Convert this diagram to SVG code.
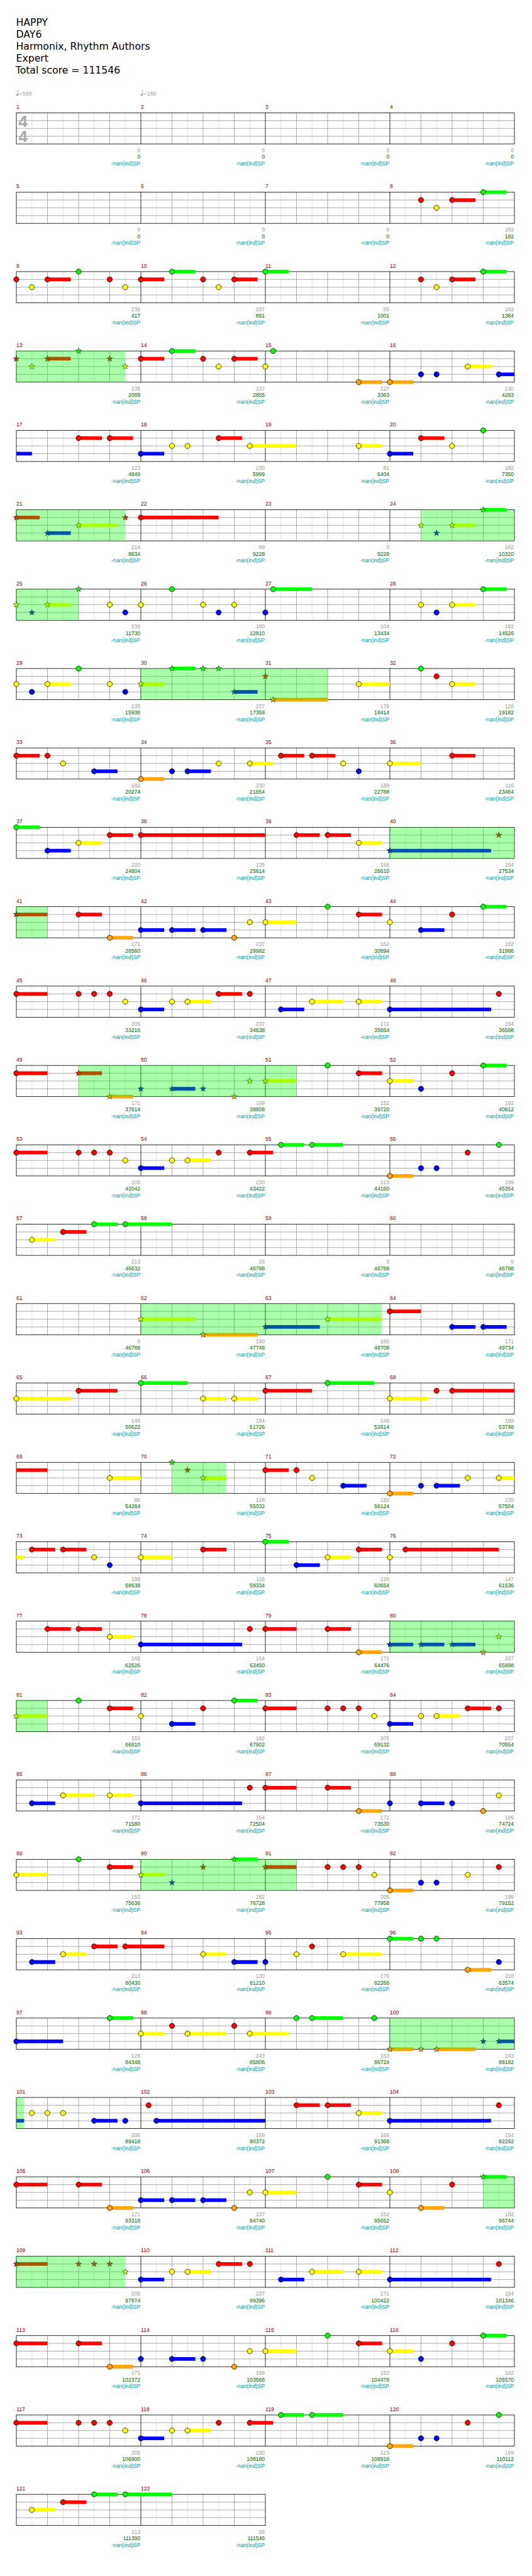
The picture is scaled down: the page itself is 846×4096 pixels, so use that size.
<svg xmlns="http://www.w3.org/2000/svg" width="846" height="4096" viewBox="0 0 846 4096">
<style>
text{font-family:"Liberation Sans",Arial,sans-serif;font-size:10.5px}
.ti{font-family:"DejaVu Sans","Liberation Sans",sans-serif;font-size:19px;fill:#000}
.ts{font-family:"Liberation Sans",Arial,sans-serif;font-weight:bold;font-size:32px;fill:#aaa;text-anchor:middle}
.tm{fill:#999;font-size:11px}
.mn{fill:#8b0000}
.a{fill:#999;text-anchor:end}
.b{fill:#006400;text-anchor:end}
.c{fill:#009999;text-anchor:end}
.s{fill:none;stroke-width:7}
.sG{stroke:#0f0}.sR{stroke:#f00}.sY{stroke:#ff0}.sB{stroke:#00f}.sO{stroke:#ffa500}
.sp{fill:#0f0;fill-opacity:.333}
.n{stroke:#000;stroke-width:.9}
.st{stroke:#111;stroke-width:.7}
.l1{stroke:#ddd;fill:none}.l2{stroke:#999;fill:none}.l3{stroke:#000;fill:none}
</style>
<defs>
<circle id="G" class="n" r="5" fill="#0f0"/>
<circle id="R" class="n" r="5" fill="#f00"/>
<circle id="Y" class="n" r="5" fill="#ff0"/>
<circle id="B" class="n" r="5" fill="#00f"/>
<circle id="O" class="n" r="5" fill="#ffa500"/>
<polygon id="SG" class="st" fill="#0f0" points="0,-6 1.41,-1.94 5.71,-1.85 2.28,0.74 3.53,4.85 0,2.4 -3.53,4.85 -2.28,0.74 -5.71,-1.85 -1.41,-1.94"/>
<polygon id="SR" class="st" fill="#f00" points="0,-6 1.41,-1.94 5.71,-1.85 2.28,0.74 3.53,4.85 0,2.4 -3.53,4.85 -2.28,0.74 -5.71,-1.85 -1.41,-1.94"/>
<polygon id="SY" class="st" fill="#ff0" points="0,-6 1.41,-1.94 5.71,-1.85 2.28,0.74 3.53,4.85 0,2.4 -3.53,4.85 -2.28,0.74 -5.71,-1.85 -1.41,-1.94"/>
<polygon id="SB" class="st" fill="#00f" points="0,-6 1.41,-1.94 5.71,-1.85 2.28,0.74 3.53,4.85 0,2.4 -3.53,4.85 -2.28,0.74 -5.71,-1.85 -1.41,-1.94"/>
<polygon id="SO" class="st" fill="#ffa500" points="0,-6 1.41,-1.94 5.71,-1.85 2.28,0.74 3.53,4.85 0,2.4 -3.53,4.85 -2.28,0.74 -5.71,-1.85 -1.41,-1.94"/>
<g id="g4">
<path class="l1" d="M30 0v60M90 0v60M150 0v60M210 0v60M270 0v60M330 0v60M390 0v60M450 0v60M510 0v60M570 0v60M630 0v60M690 0v60M750 0v60M810 0v60M870 0v60M930 0v60"/>
<path class="l2" d="M60 0v60M120 0v60M180 0v60M300 0v60M360 0v60M420 0v60M540 0v60M600 0v60M660 0v60M780 0v60M840 0v60M900 0v60M0 15H960M0 30H960M0 45H960"/>
<path class="l3" d="M240 0v60M480 0v60M720 0v60"/>
<rect class="l3" width="960" height="60"/>
</g>
<g id="g2">
<path class="l1" d="M30 0v60M90 0v60M150 0v60M210 0v60M270 0v60M330 0v60M390 0v60M450 0v60"/>
<path class="l2" d="M60 0v60M120 0v60M180 0v60M300 0v60M360 0v60M420 0v60M0 15H480M0 30H480M0 45H480"/>
<path class="l3" d="M240 0v60"/>
<rect class="l3" width="480" height="60"/>
</g>
</defs>
<rect width="846" height="4096" fill="#fff"/>
<g transform="scale(0.825)">
<g id="header">
<text class="ti" x="31" y="49.3">HAPPY</text>
<text class="ti" x="31" y="72.3">DAY6</text>
<text class="ti" x="31" y="95.3">Harmonix, Rhythm Authors</text>
<text class="ti" x="31" y="118.3">Expert</text>
<text class="ti" x="30" y="141.5">Total score = 111546</text>
</g>

<g id="row-1" transform="translate(31.5,217.5)">
<use href="#g4"/>
<text class="ts" x="13" y="27.5">4</text><text class="ts" x="13" y="56.5">4</text>
<ellipse cx="1.5" cy="-34.5" rx="2.3" ry="1.7" fill="#999"/><path d="M3.5 -34.5V-44.5" stroke="#999"/><text class="tm" x="5" y="-33">=160</text>
<ellipse cx="241.5" cy="-34.5" rx="2.3" ry="1.7" fill="#999"/><path d="M243.5 -34.5V-44.5" stroke="#999"/><text class="tm" x="245" y="-33">=160</text>
<text class="mn" y="-7.5"><tspan x="0">1</tspan><tspan x="240">2</tspan><tspan x="480">3</tspan><tspan x="720">4</tspan></text>
<text class="a" y="76"><tspan x="239">0</tspan><tspan x="479">0</tspan><tspan x="719">0</tspan><tspan x="959">0</tspan></text>
<text class="b" y="88.5"><tspan x="239">0</tspan><tspan x="479">0</tspan><tspan x="719">0</tspan><tspan x="959">0</tspan></text>
<text class="c" y="101.5"><tspan x="239">-nan(ind)SP</tspan><tspan x="479">-nan(ind)SP</tspan><tspan x="719">-nan(ind)SP</tspan><tspan x="959">-nan(ind)SP</tspan></text>
</g>

<g id="row-2" transform="translate(31.5,370.5)">
<use href="#g4"/>
<path class="s sR" d="M840 15h45"/><path class="s sG" d="M900 0h45"/>
<use href="#R" x="780" y="15"/><use href="#Y" x="810" y="30"/><use href="#R" x="840" y="15"/><use href="#G" x="900" y="0"/>
<text class="mn" y="-7.5"><tspan x="0">5</tspan><tspan x="240">6</tspan><tspan x="480">7</tspan><tspan x="720">8</tspan></text>
<text class="a" y="76"><tspan x="239">0</tspan><tspan x="479">0</tspan><tspan x="719">0</tspan><tspan x="959">182</tspan></text>
<text class="b" y="88.5"><tspan x="239">0</tspan><tspan x="479">0</tspan><tspan x="719">0</tspan><tspan x="959">182</tspan></text>
<text class="c" y="101.5"><tspan x="239">-nan(ind)SP</tspan><tspan x="479">-nan(ind)SP</tspan><tspan x="719">-nan(ind)SP</tspan><tspan x="959">-nan(ind)SP</tspan></text>
</g>

<g id="row-3" transform="translate(31.5,523.5)">
<use href="#g4"/>
<path class="s sR" d="M60 15h45M240 15h45M420 15h45M840 15h45"/><path class="s sG" d="M300 0h45M480 0h45M900 0h45"/>
<use href="#R" x="0" y="15"/><use href="#Y" x="30" y="30"/><use href="#R" x="60" y="15"/><use href="#G" x="120" y="0"/><use href="#R" x="180" y="15"/><use href="#Y" x="210" y="30"/><use href="#R" x="240" y="15"/><use href="#G" x="300" y="0"/><use href="#R" x="360" y="15"/><use href="#Y" x="390" y="30"/><use href="#R" x="420" y="15"/><use href="#G" x="480" y="0"/><use href="#R" x="780" y="15"/><use href="#Y" x="810" y="30"/><use href="#R" x="840" y="15"/><use href="#G" x="900" y="0"/>
<text class="mn" y="-7.5"><tspan x="0">9</tspan><tspan x="240">10</tspan><tspan x="480">11</tspan><tspan x="720">12</tspan></text>
<text class="a" y="76"><tspan x="239">235</tspan><tspan x="479">237</tspan><tspan x="719">55</tspan><tspan x="959">182</tspan></text>
<text class="b" y="88.5"><tspan x="239">417</tspan><tspan x="479">891</tspan><tspan x="719">1001</tspan><tspan x="959">1384</tspan></text>
<text class="c" y="101.5"><tspan x="239">-nan(ind)SP</tspan><tspan x="479">-nan(ind)SP</tspan><tspan x="719">-nan(ind)SP</tspan><tspan x="959">-nan(ind)SP</tspan></text>
</g>

<g id="row-4" transform="translate(31.5,676.5)">
<use href="#g4"/>
<path class="s sR" d="M60 15h45M240 15h45M420 15h45"/><path class="s sG" d="M300 0h45"/><path class="s sO" d="M660 60h45M720 60h45"/><path class="s sY" d="M870 30h45"/><path class="s sB" d="M930 45h30"/>
<use href="#R" x="240" y="15"/><use href="#G" x="300" y="0"/><use href="#R" x="360" y="15"/><use href="#Y" x="390" y="30"/><use href="#R" x="420" y="15"/><use href="#Y" x="480" y="30"/><use href="#G" x="495" y="0"/><use href="#O" x="660" y="60"/><use href="#O" x="720" y="60"/><use href="#B" x="780" y="45"/><use href="#B" x="810" y="45"/><use href="#Y" x="870" y="30"/><use href="#B" x="930" y="45"/>
<use href="#SR" x="0" y="15"/><use href="#SY" x="30" y="30"/><use href="#SR" x="60" y="15"/><use href="#SG" x="120" y="0"/><use href="#SR" x="180" y="15"/><use href="#SY" x="210" y="30"/>
<rect class="sp" x="0" width="210" height="60"/>
<text class="mn" y="-7.5"><tspan x="0">13</tspan><tspan x="240">14</tspan><tspan x="480">15</tspan><tspan x="720">16</tspan></text>
<text class="a" y="76"><tspan x="239">235</tspan><tspan x="479">237</tspan><tspan x="719">127</tspan><tspan x="959">230</tspan></text>
<text class="b" y="88.5"><tspan x="239">2089</tspan><tspan x="479">2855</tspan><tspan x="719">3363</tspan><tspan x="959">4283</tspan></text>
<text class="c" y="101.5"><tspan x="239">-nan(ind)SP</tspan><tspan x="479">-nan(ind)SP</tspan><tspan x="719">-nan(ind)SP</tspan><tspan x="959">-nan(ind)SP</tspan></text>
</g>

<g id="row-5" transform="translate(31.5,829.5)">
<use href="#g4"/>
<path class="s sB" d="M0 45h30M240 45h45M720 45h45"/><path class="s sR" d="M120 15h45M180 15h45M390 15h45M780 15h45"/><path class="s sY" d="M450 30h90M660 30h45"/>
<use href="#R" x="120" y="15"/><use href="#R" x="180" y="15"/><use href="#B" x="240" y="45"/><use href="#Y" x="300" y="30"/><use href="#Y" x="330" y="30"/><use href="#R" x="390" y="15"/><use href="#Y" x="450" y="30"/><use href="#Y" x="660" y="30"/><use href="#B" x="720" y="45"/><use href="#R" x="780" y="15"/><use href="#Y" x="840" y="30"/><use href="#G" x="900" y="0"/>
<text class="mn" y="-7.5"><tspan x="0">17</tspan><tspan x="240">18</tspan><tspan x="480">19</tspan><tspan x="720">20</tspan></text>
<text class="a" y="76"><tspan x="239">123</tspan><tspan x="479">230</tspan><tspan x="719">81</tspan><tspan x="959">182</tspan></text>
<text class="b" y="88.5"><tspan x="239">4849</tspan><tspan x="479">5999</tspan><tspan x="719">6404</tspan><tspan x="959">7350</tspan></text>
<text class="c" y="101.5"><tspan x="239">-nan(ind)SP</tspan><tspan x="479">-nan(ind)SP</tspan><tspan x="719">-nan(ind)SP</tspan><tspan x="959">-nan(ind)SP</tspan></text>
</g>

<g id="row-6" transform="translate(31.5,982.5)">
<use href="#g4"/>
<path class="s sR" d="M0 15h45M240 15h150"/><path class="s sB" d="M60 45h45"/><path class="s sY" d="M120 30h75M840 30h45"/><path class="s sG" d="M900 0h45"/>
<use href="#R" x="240" y="15"/>
<use href="#SR" x="0" y="15"/><use href="#SB" x="60" y="45"/><use href="#SY" x="120" y="30"/><use href="#SR" x="210" y="15"/><use href="#SY" x="780" y="30"/><use href="#SB" x="810" y="45"/><use href="#SY" x="840" y="30"/><use href="#SG" x="900" y="0"/>
<rect class="sp" x="0" width="210" height="60"/><rect class="sp" x="780" width="180" height="60"/>
<text class="mn" y="-7.5"><tspan x="0">21</tspan><tspan x="240">22</tspan><tspan x="480">23</tspan><tspan x="720">24</tspan></text>
<text class="a" y="76"><tspan x="239">214</tspan><tspan x="479">99</tspan><tspan x="719">0</tspan><tspan x="959">182</tspan></text>
<text class="b" y="88.5"><tspan x="239">8634</tspan><tspan x="479">9228</tspan><tspan x="719">9228</tspan><tspan x="959">10320</tspan></text>
<text class="c" y="101.5"><tspan x="239">-nan(ind)SP</tspan><tspan x="479">-nan(ind)SP</tspan><tspan x="719">-nan(ind)SP</tspan><tspan x="959">-nan(ind)SP</tspan></text>
</g>

<g id="row-7" transform="translate(31.5,1135.5)">
<use href="#g4"/>
<path class="s sY" d="M60 30h45M840 30h45"/><path class="s sG" d="M495 0h75M900 0h45"/>
<use href="#Y" x="180" y="30"/><use href="#B" x="210" y="45"/><use href="#Y" x="240" y="30"/><use href="#G" x="300" y="0"/><use href="#Y" x="360" y="30"/><use href="#B" x="390" y="45"/><use href="#Y" x="420" y="30"/><use href="#B" x="480" y="45"/><use href="#G" x="495" y="0"/><use href="#Y" x="780" y="30"/><use href="#B" x="810" y="45"/><use href="#Y" x="840" y="30"/><use href="#G" x="900" y="0"/>
<use href="#SY" x="0" y="30"/><use href="#SB" x="30" y="45"/><use href="#SY" x="60" y="30"/><use href="#SG" x="120" y="0"/>
<rect class="sp" x="0" width="120" height="60"/>
<text class="mn" y="-7.5"><tspan x="0">25</tspan><tspan x="240">26</tspan><tspan x="480">27</tspan><tspan x="720">28</tspan></text>
<text class="a" y="76"><tspan x="239">235</tspan><tspan x="479">180</tspan><tspan x="719">104</tspan><tspan x="959">182</tspan></text>
<text class="b" y="88.5"><tspan x="239">11730</tspan><tspan x="479">12810</tspan><tspan x="719">13434</tspan><tspan x="959">14526</tspan></text>
<text class="c" y="101.5"><tspan x="239">-nan(ind)SP</tspan><tspan x="479">-nan(ind)SP</tspan><tspan x="719">-nan(ind)SP</tspan><tspan x="959">-nan(ind)SP</tspan></text>
</g>

<g id="row-8" transform="translate(31.5,1288.5)">
<use href="#g4"/>
<path class="s sY" d="M60 30h45M240 30h45M660 30h60M840 30h45"/><path class="s sG" d="M300 0h45"/><path class="s sB" d="M420 45h45"/><path class="s sO" d="M495 60h105"/>
<use href="#Y" x="0" y="30"/><use href="#B" x="30" y="45"/><use href="#Y" x="60" y="30"/><use href="#G" x="120" y="0"/><use href="#Y" x="180" y="30"/><use href="#B" x="210" y="45"/><use href="#Y" x="660" y="30"/><use href="#G" x="780" y="0"/><use href="#R" x="810" y="15"/><use href="#Y" x="840" y="30"/>
<use href="#SY" x="240" y="30"/><use href="#SG" x="300" y="0"/><use href="#SG" x="360" y="0"/><use href="#SG" x="390" y="0"/><use href="#SB" x="420" y="45"/><use href="#SR" x="480" y="15"/><use href="#SO" x="495" y="60"/>
<rect class="sp" x="240" width="360" height="60"/>
<text class="mn" y="-7.5"><tspan x="0">29</tspan><tspan x="240">30</tspan><tspan x="480">31</tspan><tspan x="720">32</tspan></text>
<text class="a" y="76"><tspan x="239">235</tspan><tspan x="479">237</tspan><tspan x="719">176</tspan><tspan x="959">128</tspan></text>
<text class="b" y="88.5"><tspan x="239">15936</tspan><tspan x="479">17358</tspan><tspan x="719">18414</tspan><tspan x="959">19182</tspan></text>
<text class="c" y="101.5"><tspan x="239">-nan(ind)SP</tspan><tspan x="479">-nan(ind)SP</tspan><tspan x="719">-nan(ind)SP</tspan><tspan x="959">-nan(ind)SP</tspan></text>
</g>

<g id="row-9" transform="translate(31.5,1441.5)">
<use href="#g4"/>
<path class="s sR" d="M0 15h45M510 15h45M570 15h45M840 15h45"/><path class="s sB" d="M150 45h45M330 45h45"/><path class="s sO" d="M240 60h45"/><path class="s sY" d="M450 30h45M720 30h60"/>
<use href="#R" x="0" y="15"/><use href="#R" x="60" y="15"/><use href="#Y" x="90" y="30"/><use href="#B" x="150" y="45"/><use href="#O" x="240" y="60"/><use href="#B" x="300" y="45"/><use href="#B" x="330" y="45"/><use href="#Y" x="390" y="30"/><use href="#Y" x="450" y="30"/><use href="#R" x="510" y="15"/><use href="#R" x="570" y="15"/><use href="#Y" x="630" y="30"/><use href="#B" x="660" y="45"/><use href="#Y" x="720" y="30"/><use href="#R" x="840" y="15"/>
<text class="mn" y="-7.5"><tspan x="0">33</tspan><tspan x="240">34</tspan><tspan x="480">35</tspan><tspan x="720">36</tspan></text>
<text class="a" y="76"><tspan x="239">182</tspan><tspan x="479">230</tspan><tspan x="719">189</tspan><tspan x="959">116</tspan></text>
<text class="b" y="88.5"><tspan x="239">20274</tspan><tspan x="479">21654</tspan><tspan x="719">22788</tspan><tspan x="959">23484</tspan></text>
<text class="c" y="101.5"><tspan x="239">-nan(ind)SP</tspan><tspan x="479">-nan(ind)SP</tspan><tspan x="719">-nan(ind)SP</tspan><tspan x="959">-nan(ind)SP</tspan></text>
</g>

<g id="row-10" transform="translate(31.5,1594.5)">
<use href="#g4"/>
<path class="s sG" d="M0 0h45"/><path class="s sB" d="M60 45h45M720 45h195"/><path class="s sY" d="M120 30h45M660 30h45"/><path class="s sR" d="M180 15h45M240 15h240M540 15h45M600 15h45"/>
<use href="#G" x="0" y="0"/><use href="#B" x="60" y="45"/><use href="#Y" x="120" y="30"/><use href="#R" x="180" y="15"/><use href="#R" x="240" y="15"/><use href="#R" x="540" y="15"/><use href="#R" x="600" y="15"/><use href="#Y" x="660" y="30"/>
<use href="#SB" x="720" y="45"/><use href="#SR" x="930" y="15"/>
<rect class="sp" x="720" width="240" height="60"/>
<text class="mn" y="-7.5"><tspan x="0">37</tspan><tspan x="240">38</tspan><tspan x="480">39</tspan><tspan x="720">40</tspan></text>
<text class="a" y="76"><tspan x="239">220</tspan><tspan x="479">135</tspan><tspan x="719">166</tspan><tspan x="959">154</tspan></text>
<text class="b" y="88.5"><tspan x="239">24804</tspan><tspan x="479">25614</tspan><tspan x="719">26610</tspan><tspan x="959">27534</tspan></text>
<text class="c" y="101.5"><tspan x="239">-nan(ind)SP</tspan><tspan x="479">-nan(ind)SP</tspan><tspan x="719">-nan(ind)SP</tspan><tspan x="959">-nan(ind)SP</tspan></text>
</g>

<g id="row-11" transform="translate(31.5,1747.5)">
<use href="#g4"/>
<path class="s sR" d="M0 15h60M120 15h45M660 15h45"/><path class="s sO" d="M180 60h45"/><path class="s sB" d="M240 45h45M300 45h45M360 45h45M780 45h45"/><path class="s sY" d="M480 30h60"/><path class="s sG" d="M900 0h45"/>
<use href="#R" x="120" y="15"/><use href="#O" x="180" y="60"/><use href="#B" x="240" y="45"/><use href="#B" x="300" y="45"/><use href="#B" x="360" y="45"/><use href="#O" x="420" y="60"/><use href="#Y" x="450" y="30"/><use href="#Y" x="480" y="30"/><use href="#G" x="600" y="0"/><use href="#R" x="660" y="15"/><use href="#Y" x="720" y="30"/><use href="#B" x="780" y="45"/><use href="#R" x="840" y="15"/><use href="#G" x="900" y="0"/>
<use href="#SR" x="0" y="15"/>
<rect class="sp" x="0" width="60" height="60"/>
<text class="mn" y="-7.5"><tspan x="0">41</tspan><tspan x="240">42</tspan><tspan x="480">43</tspan><tspan x="720">44</tspan></text>
<text class="a" y="76"><tspan x="239">171</tspan><tspan x="479">237</tspan><tspan x="719">152</tspan><tspan x="959">182</tspan></text>
<text class="b" y="88.5"><tspan x="239">28560</tspan><tspan x="479">29982</tspan><tspan x="719">30894</tspan><tspan x="959">31986</tspan></text>
<text class="c" y="101.5"><tspan x="239">-nan(ind)SP</tspan><tspan x="479">-nan(ind)SP</tspan><tspan x="719">-nan(ind)SP</tspan><tspan x="959">-nan(ind)SP</tspan></text>
</g>

<g id="row-12" transform="translate(31.5,1900.5)">
<use href="#g4"/>
<path class="s sR" d="M0 15h60M390 15h45"/><path class="s sB" d="M240 45h45M510 45h45M720 45h195"/><path class="s sY" d="M330 30h45M570 30h60M660 30h45"/>
<use href="#R" x="0" y="15"/><use href="#R" x="120" y="15"/><use href="#R" x="150" y="15"/><use href="#R" x="180" y="15"/><use href="#Y" x="210" y="30"/><use href="#B" x="240" y="45"/><use href="#Y" x="300" y="30"/><use href="#Y" x="330" y="30"/><use href="#R" x="390" y="15"/><use href="#R" x="450" y="15"/><use href="#B" x="510" y="45"/><use href="#Y" x="570" y="30"/><use href="#Y" x="660" y="30"/><use href="#B" x="720" y="45"/><use href="#R" x="930" y="15"/>
<text class="mn" y="-7.5"><tspan x="0">45</tspan><tspan x="240">46</tspan><tspan x="480">47</tspan><tspan x="720">48</tspan></text>
<text class="a" y="76"><tspan x="239">205</tspan><tspan x="479">237</tspan><tspan x="719">171</tspan><tspan x="959">154</tspan></text>
<text class="b" y="88.5"><tspan x="239">33216</tspan><tspan x="479">34638</tspan><tspan x="719">35664</tspan><tspan x="959">36588</tspan></text>
<text class="c" y="101.5"><tspan x="239">-nan(ind)SP</tspan><tspan x="479">-nan(ind)SP</tspan><tspan x="719">-nan(ind)SP</tspan><tspan x="959">-nan(ind)SP</tspan></text>
</g>

<g id="row-13" transform="translate(31.5,2053.5)">
<use href="#g4"/>
<path class="s sR" d="M0 15h60M120 15h45M660 15h45"/><path class="s sO" d="M180 60h45"/><path class="s sB" d="M300 45h45"/><path class="s sY" d="M480 30h60M720 30h45"/><path class="s sG" d="M900 0h45"/>
<use href="#R" x="0" y="15"/><use href="#G" x="600" y="0"/><use href="#R" x="660" y="15"/><use href="#Y" x="720" y="30"/><use href="#B" x="780" y="45"/><use href="#R" x="840" y="15"/><use href="#G" x="900" y="0"/>
<use href="#SR" x="120" y="15"/><use href="#SO" x="180" y="60"/><use href="#SB" x="240" y="45"/><use href="#SB" x="300" y="45"/><use href="#SB" x="360" y="45"/><use href="#SO" x="420" y="60"/><use href="#SY" x="450" y="30"/><use href="#SY" x="480" y="30"/>
<rect class="sp" x="120" width="420" height="60"/>
<text class="mn" y="-7.5"><tspan x="0">49</tspan><tspan x="240">50</tspan><tspan x="480">51</tspan><tspan x="720">52</tspan></text>
<text class="a" y="76"><tspan x="239">171</tspan><tspan x="479">199</tspan><tspan x="719">152</tspan><tspan x="959">182</tspan></text>
<text class="b" y="88.5"><tspan x="239">37614</tspan><tspan x="479">38808</tspan><tspan x="719">39720</tspan><tspan x="959">40812</tspan></text>
<text class="c" y="101.5"><tspan x="239">-nan(ind)SP</tspan><tspan x="479">-nan(ind)SP</tspan><tspan x="719">-nan(ind)SP</tspan><tspan x="959">-nan(ind)SP</tspan></text>
</g>

<g id="row-14" transform="translate(31.5,2206.5)">
<use href="#g4"/>
<path class="s sR" d="M0 15h60M450 15h45"/><path class="s sB" d="M240 45h45"/><path class="s sY" d="M330 30h45"/><path class="s sG" d="M510 0h45M570 0h60"/><path class="s sO" d="M720 60h45"/>
<use href="#R" x="0" y="15"/><use href="#R" x="120" y="15"/><use href="#R" x="150" y="15"/><use href="#R" x="180" y="15"/><use href="#Y" x="210" y="30"/><use href="#B" x="240" y="45"/><use href="#Y" x="300" y="30"/><use href="#Y" x="330" y="30"/><use href="#R" x="390" y="15"/><use href="#R" x="450" y="15"/><use href="#G" x="510" y="0"/><use href="#G" x="570" y="0"/><use href="#O" x="720" y="60"/><use href="#B" x="780" y="45"/><use href="#B" x="810" y="45"/><use href="#R" x="870" y="15"/><use href="#G" x="930" y="0"/>
<text class="mn" y="-7.5"><tspan x="0">53</tspan><tspan x="240">54</tspan><tspan x="480">55</tspan><tspan x="720">56</tspan></text>
<text class="a" y="76"><tspan x="239">205</tspan><tspan x="479">230</tspan><tspan x="719">123</tspan><tspan x="959">199</tspan></text>
<text class="b" y="88.5"><tspan x="239">42042</tspan><tspan x="479">43422</tspan><tspan x="719">44160</tspan><tspan x="959">45354</tspan></text>
<text class="c" y="101.5"><tspan x="239">-nan(ind)SP</tspan><tspan x="479">-nan(ind)SP</tspan><tspan x="719">-nan(ind)SP</tspan><tspan x="959">-nan(ind)SP</tspan></text>
</g>

<g id="row-15" transform="translate(31.5,2359.5)">
<use href="#g4"/>
<path class="s sY" d="M30 30h45"/><path class="s sR" d="M90 15h45"/><path class="s sG" d="M150 0h45M210 0h90"/>
<use href="#Y" x="30" y="30"/><use href="#R" x="90" y="15"/><use href="#G" x="150" y="0"/><use href="#G" x="210" y="0"/>
<text class="mn" y="-7.5"><tspan x="0">57</tspan><tspan x="240">58</tspan><tspan x="480">59</tspan><tspan x="720">60</tspan></text>
<text class="a" y="76"><tspan x="239">213</tspan><tspan x="479">26</tspan><tspan x="719">0</tspan><tspan x="959">0</tspan></text>
<text class="b" y="88.5"><tspan x="239">46632</tspan><tspan x="479">46788</tspan><tspan x="719">46788</tspan><tspan x="959">46788</tspan></text>
<text class="c" y="101.5"><tspan x="239">-nan(ind)SP</tspan><tspan x="479">-nan(ind)SP</tspan><tspan x="719">-nan(ind)SP</tspan><tspan x="959">-nan(ind)SP</tspan></text>
</g>

<g id="row-16" transform="translate(31.5,2512.5)">
<use href="#g4"/>
<path class="s sY" d="M240 30h105M600 30h105"/><path class="s sO" d="M360 60h105"/><path class="s sB" d="M480 45h105M840 45h45M900 45h45"/><path class="s sR" d="M720 15h60"/>
<use href="#R" x="720" y="15"/><use href="#B" x="840" y="45"/><use href="#B" x="900" y="45"/>
<use href="#SY" x="240" y="30"/><use href="#SO" x="360" y="60"/><use href="#SB" x="480" y="45"/><use href="#SY" x="600" y="30"/>
<rect class="sp" x="240" width="465" height="60"/>
<text class="mn" y="-7.5"><tspan x="0">61</tspan><tspan x="240">62</tspan><tspan x="480">63</tspan><tspan x="720">64</tspan></text>
<text class="a" y="76"><tspan x="239">0</tspan><tspan x="479">160</tspan><tspan x="719">160</tspan><tspan x="959">171</tspan></text>
<text class="b" y="88.5"><tspan x="239">46788</tspan><tspan x="479">47748</tspan><tspan x="719">48708</tspan><tspan x="959">49734</tspan></text>
<text class="c" y="101.5"><tspan x="239">-nan(ind)SP</tspan><tspan x="479">-nan(ind)SP</tspan><tspan x="719">-nan(ind)SP</tspan><tspan x="959">-nan(ind)SP</tspan></text>
</g>

<g id="row-17" transform="translate(31.5,2665.5)">
<use href="#g4"/>
<path class="s sY" d="M0 30h105M360 30h45M420 30h45M720 30h75"/><path class="s sR" d="M120 15h75M480 15h90M840 15h120"/><path class="s sG" d="M240 0h90M600 0h90"/>
<use href="#Y" x="0" y="30"/><use href="#R" x="120" y="15"/><use href="#G" x="240" y="0"/><use href="#Y" x="360" y="30"/><use href="#Y" x="420" y="30"/><use href="#R" x="480" y="15"/><use href="#G" x="600" y="0"/><use href="#Y" x="720" y="30"/><use href="#R" x="810" y="15"/><use href="#R" x="840" y="15"/>
<text class="mn" y="-7.5"><tspan x="0">65</tspan><tspan x="240">66</tspan><tspan x="480">67</tspan><tspan x="720">68</tspan></text>
<text class="a" y="76"><tspan x="239">148</tspan><tspan x="479">184</tspan><tspan x="719">148</tspan><tspan x="959">189</tspan></text>
<text class="b" y="88.5"><tspan x="239">50622</tspan><tspan x="479">51726</tspan><tspan x="719">52614</tspan><tspan x="959">53748</tspan></text>
<text class="c" y="101.5"><tspan x="239">-nan(ind)SP</tspan><tspan x="479">-nan(ind)SP</tspan><tspan x="719">-nan(ind)SP</tspan><tspan x="959">-nan(ind)SP</tspan></text>
</g>

<g id="row-18" transform="translate(31.5,2818.5)">
<use href="#g4"/>
<path class="s sR" d="M0 15h60M480 15h45"/><path class="s sY" d="M180 30h60M360 30h45M930 30h30"/><path class="s sB" d="M630 45h45M810 45h45"/><path class="s sO" d="M720 60h45"/>
<use href="#Y" x="180" y="30"/><use href="#R" x="480" y="15"/><use href="#R" x="540" y="15"/><use href="#Y" x="570" y="30"/><use href="#B" x="630" y="45"/><use href="#O" x="720" y="60"/><use href="#B" x="780" y="45"/><use href="#B" x="810" y="45"/><use href="#Y" x="870" y="30"/><use href="#Y" x="930" y="30"/>
<use href="#SG" x="300" y="0"/><use href="#SR" x="330" y="15"/><use href="#SY" x="360" y="30"/>
<rect class="sp" x="300" width="105" height="60"/>
<text class="mn" y="-7.5"><tspan x="0">69</tspan><tspan x="240">70</tspan><tspan x="480">71</tspan><tspan x="720">72</tspan></text>
<text class="a" y="76"><tspan x="239">86</tspan><tspan x="479">128</tspan><tspan x="719">182</tspan><tspan x="959">230</tspan></text>
<text class="b" y="88.5"><tspan x="239">54264</tspan><tspan x="479">55032</tspan><tspan x="719">56124</tspan><tspan x="959">57504</tspan></text>
<text class="c" y="101.5"><tspan x="239">-nan(ind)SP</tspan><tspan x="479">-nan(ind)SP</tspan><tspan x="719">-nan(ind)SP</tspan><tspan x="959">-nan(ind)SP</tspan></text>
</g>

<g id="row-19" transform="translate(31.5,2971.5)">
<use href="#g4"/>
<path class="s sY" d="M0 30h15M240 30h60M600 30h45"/><path class="s sR" d="M30 15h45M90 15h45M360 15h45M660 15h45M750 15h180"/><path class="s sG" d="M480 0h45"/><path class="s sB" d="M540 45h45"/>
<use href="#R" x="30" y="15"/><use href="#R" x="90" y="15"/><use href="#Y" x="150" y="30"/><use href="#B" x="180" y="45"/><use href="#Y" x="240" y="30"/><use href="#R" x="360" y="15"/><use href="#G" x="480" y="0"/><use href="#B" x="540" y="45"/><use href="#Y" x="600" y="30"/><use href="#R" x="660" y="15"/><use href="#Y" x="720" y="30"/><use href="#R" x="750" y="15"/>
<text class="mn" y="-7.5"><tspan x="0">73</tspan><tspan x="240">74</tspan><tspan x="480">75</tspan><tspan x="720">76</tspan></text>
<text class="a" y="76"><tspan x="239">189</tspan><tspan x="479">116</tspan><tspan x="719">220</tspan><tspan x="959">147</tspan></text>
<text class="b" y="88.5"><tspan x="239">58638</tspan><tspan x="479">59334</tspan><tspan x="719">60654</tspan><tspan x="959">61536</tspan></text>
<text class="c" y="101.5"><tspan x="239">-nan(ind)SP</tspan><tspan x="479">-nan(ind)SP</tspan><tspan x="719">-nan(ind)SP</tspan><tspan x="959">-nan(ind)SP</tspan></text>
</g>

<g id="row-20" transform="translate(31.5,3124.5)">
<use href="#g4"/>
<path class="s sR" d="M60 15h45M120 15h45M480 15h60M600 15h45"/><path class="s sY" d="M180 30h45"/><path class="s sB" d="M240 45h195M720 45h45M780 45h45M840 45h45"/><path class="s sO" d="M660 60h45"/>
<use href="#R" x="60" y="15"/><use href="#R" x="120" y="15"/><use href="#Y" x="180" y="30"/><use href="#B" x="240" y="45"/><use href="#R" x="450" y="15"/><use href="#R" x="480" y="15"/><use href="#R" x="600" y="15"/><use href="#O" x="660" y="60"/>
<use href="#SB" x="720" y="45"/><use href="#SB" x="780" y="45"/><use href="#SB" x="840" y="45"/><use href="#SO" x="900" y="60"/><use href="#SY" x="930" y="30"/>
<rect class="sp" x="720" width="240" height="60"/>
<text class="mn" y="-7.5"><tspan x="0">77</tspan><tspan x="240">78</tspan><tspan x="480">79</tspan><tspan x="720">80</tspan></text>
<text class="a" y="76"><tspan x="239">165</tspan><tspan x="479">154</tspan><tspan x="719">171</tspan><tspan x="959">237</tspan></text>
<text class="b" y="88.5"><tspan x="239">62526</tspan><tspan x="479">63450</tspan><tspan x="719">64476</tspan><tspan x="959">65898</tspan></text>
<text class="c" y="101.5"><tspan x="239">-nan(ind)SP</tspan><tspan x="479">-nan(ind)SP</tspan><tspan x="719">-nan(ind)SP</tspan><tspan x="959">-nan(ind)SP</tspan></text>
</g>

<g id="row-21" transform="translate(31.5,3277.5)">
<use href="#g4"/>
<path class="s sY" d="M0 30h60M810 30h45"/><path class="s sR" d="M180 15h45M480 15h60M870 15h45"/><path class="s sB" d="M300 45h45M720 45h45"/><path class="s sG" d="M420 0h45"/>
<use href="#G" x="120" y="0"/><use href="#R" x="180" y="15"/><use href="#Y" x="240" y="30"/><use href="#B" x="300" y="45"/><use href="#R" x="360" y="15"/><use href="#G" x="420" y="0"/><use href="#R" x="480" y="15"/><use href="#R" x="600" y="15"/><use href="#R" x="630" y="15"/><use href="#R" x="660" y="15"/><use href="#Y" x="690" y="30"/><use href="#B" x="720" y="45"/><use href="#Y" x="780" y="30"/><use href="#Y" x="810" y="30"/><use href="#R" x="870" y="15"/><use href="#R" x="930" y="15"/>
<use href="#SY" x="0" y="30"/>
<rect class="sp" x="0" width="60" height="60"/>
<text class="mn" y="-7.5"><tspan x="0">81</tspan><tspan x="240">82</tspan><tspan x="480">83</tspan><tspan x="720">84</tspan></text>
<text class="a" y="76"><tspan x="239">152</tspan><tspan x="479">182</tspan><tspan x="719">205</tspan><tspan x="959">237</tspan></text>
<text class="b" y="88.5"><tspan x="239">66810</tspan><tspan x="479">67902</tspan><tspan x="719">69132</tspan><tspan x="959">70554</tspan></text>
<text class="c" y="101.5"><tspan x="239">-nan(ind)SP</tspan><tspan x="479">-nan(ind)SP</tspan><tspan x="719">-nan(ind)SP</tspan><tspan x="959">-nan(ind)SP</tspan></text>
</g>

<g id="row-22" transform="translate(31.5,3430.5)">
<use href="#g4"/>
<path class="s sB" d="M30 45h45M240 45h195M780 45h45"/><path class="s sY" d="M90 30h60M180 30h45"/><path class="s sR" d="M480 15h60M600 15h45"/><path class="s sO" d="M660 60h45"/>
<use href="#B" x="30" y="45"/><use href="#Y" x="90" y="30"/><use href="#Y" x="180" y="30"/><use href="#B" x="240" y="45"/><use href="#R" x="450" y="15"/><use href="#R" x="480" y="15"/><use href="#R" x="600" y="15"/><use href="#O" x="660" y="60"/><use href="#B" x="720" y="45"/><use href="#B" x="780" y="45"/><use href="#B" x="840" y="45"/><use href="#O" x="900" y="60"/><use href="#Y" x="930" y="30"/>
<text class="mn" y="-7.5"><tspan x="0">85</tspan><tspan x="240">86</tspan><tspan x="480">87</tspan><tspan x="720">88</tspan></text>
<text class="a" y="76"><tspan x="239">171</tspan><tspan x="479">154</tspan><tspan x="719">171</tspan><tspan x="959">199</tspan></text>
<text class="b" y="88.5"><tspan x="239">71580</tspan><tspan x="479">72504</tspan><tspan x="719">73530</tspan><tspan x="959">74724</tspan></text>
<text class="c" y="101.5"><tspan x="239">-nan(ind)SP</tspan><tspan x="479">-nan(ind)SP</tspan><tspan x="719">-nan(ind)SP</tspan><tspan x="959">-nan(ind)SP</tspan></text>
</g>

<g id="row-23" transform="translate(31.5,3583.5)">
<use href="#g4"/>
<path class="s sY" d="M0 30h60M240 30h45"/><path class="s sR" d="M180 15h45M480 15h60"/><path class="s sG" d="M420 0h45"/><path class="s sO" d="M720 60h45"/>
<use href="#Y" x="0" y="30"/><use href="#G" x="120" y="0"/><use href="#R" x="180" y="15"/><use href="#R" x="600" y="15"/><use href="#R" x="630" y="15"/><use href="#R" x="660" y="15"/><use href="#Y" x="690" y="30"/><use href="#O" x="720" y="60"/><use href="#B" x="780" y="45"/><use href="#B" x="810" y="45"/><use href="#Y" x="870" y="30"/><use href="#R" x="930" y="15"/>
<use href="#SY" x="240" y="30"/><use href="#SB" x="300" y="45"/><use href="#SR" x="360" y="15"/><use href="#SG" x="420" y="0"/><use href="#SR" x="480" y="15"/>
<rect class="sp" x="240" width="300" height="60"/>
<text class="mn" y="-7.5"><tspan x="0">89</tspan><tspan x="240">90</tspan><tspan x="480">91</tspan><tspan x="720">92</tspan></text>
<text class="a" y="76"><tspan x="239">152</tspan><tspan x="479">182</tspan><tspan x="719">205</tspan><tspan x="959">199</tspan></text>
<text class="b" y="88.5"><tspan x="239">75636</tspan><tspan x="479">76728</tspan><tspan x="719">77958</tspan><tspan x="959">79152</tspan></text>
<text class="c" y="101.5"><tspan x="239">-nan(ind)SP</tspan><tspan x="479">-nan(ind)SP</tspan><tspan x="719">-nan(ind)SP</tspan><tspan x="959">-nan(ind)SP</tspan></text>
</g>

<g id="row-24" transform="translate(31.5,3736.5)">
<use href="#g4"/>
<path class="s sB" d="M30 45h45M420 45h45"/><path class="s sY" d="M90 30h45M360 30h45M630 30h75"/><path class="s sR" d="M150 15h45M210 15h75"/><path class="s sG" d="M720 0h45"/><path class="s sO" d="M870 60h45"/>
<use href="#B" x="30" y="45"/><use href="#Y" x="90" y="30"/><use href="#R" x="150" y="15"/><use href="#R" x="210" y="15"/><use href="#Y" x="360" y="30"/><use href="#B" x="420" y="45"/><use href="#B" x="480" y="45"/><use href="#Y" x="540" y="30"/><use href="#R" x="570" y="15"/><use href="#Y" x="630" y="30"/><use href="#G" x="720" y="0"/><use href="#G" x="780" y="0"/><use href="#G" x="810" y="0"/><use href="#O" x="870" y="60"/><use href="#B" x="930" y="45"/>
<text class="mn" y="-7.5"><tspan x="0">93</tspan><tspan x="240">94</tspan><tspan x="480">95</tspan><tspan x="720">96</tspan></text>
<text class="a" y="76"><tspan x="239">213</tspan><tspan x="479">130</tspan><tspan x="719">176</tspan><tspan x="959">218</tspan></text>
<text class="b" y="88.5"><tspan x="239">80430</tspan><tspan x="479">81210</tspan><tspan x="719">82266</tspan><tspan x="959">83574</tspan></text>
<text class="c" y="101.5"><tspan x="239">-nan(ind)SP</tspan><tspan x="479">-nan(ind)SP</tspan><tspan x="719">-nan(ind)SP</tspan><tspan x="959">-nan(ind)SP</tspan></text>
</g>

<g id="row-25" transform="translate(31.5,3889.5)">
<use href="#g4"/>
<path class="s sB" d="M0 45h90M930 45h30"/><path class="s sG" d="M180 0h45M570 0h60"/><path class="s sY" d="M240 30h45M330 30h75M450 30h75"/><path class="s sO" d="M720 60h45M810 60h75"/>
<use href="#B" x="0" y="45"/><use href="#G" x="180" y="0"/><use href="#Y" x="240" y="30"/><use href="#R" x="300" y="15"/><use href="#Y" x="330" y="30"/><use href="#R" x="420" y="15"/><use href="#Y" x="450" y="30"/><use href="#G" x="540" y="0"/><use href="#G" x="570" y="0"/><use href="#G" x="690" y="0"/>
<use href="#SO" x="720" y="60"/><use href="#SO" x="780" y="60"/><use href="#SO" x="810" y="60"/><use href="#SB" x="900" y="45"/><use href="#SB" x="930" y="45"/>
<rect class="sp" x="720" width="240" height="60"/>
<text class="mn" y="-7.5"><tspan x="0">97</tspan><tspan x="240">98</tspan><tspan x="480">99</tspan><tspan x="720">100</tspan></text>
<text class="a" y="76"><tspan x="239">129</tspan><tspan x="479">243</tspan><tspan x="719">153</tspan><tspan x="959">243</tspan></text>
<text class="b" y="88.5"><tspan x="239">84348</tspan><tspan x="479">85806</tspan><tspan x="719">86724</tspan><tspan x="959">88182</tspan></text>
<text class="c" y="101.5"><tspan x="239">-nan(ind)SP</tspan><tspan x="479">-nan(ind)SP</tspan><tspan x="719">-nan(ind)SP</tspan><tspan x="959">-nan(ind)SP</tspan></text>
</g>

<g id="row-26" transform="translate(31.5,4042.5)">
<use href="#g4"/>
<path class="s sB" d="M0 45h15M150 45h45M270 45h210M720 45h195"/><path class="s sR" d="M540 15h45M600 15h45"/><path class="s sY" d="M660 30h45"/>
<use href="#Y" x="30" y="30"/><use href="#Y" x="60" y="30"/><use href="#Y" x="90" y="30"/><use href="#B" x="150" y="45"/><use href="#B" x="210" y="45"/><use href="#R" x="255" y="15"/><use href="#B" x="270" y="45"/><use href="#R" x="540" y="15"/><use href="#R" x="600" y="15"/><use href="#Y" x="660" y="30"/><use href="#B" x="720" y="45"/><use href="#R" x="930" y="15"/>
<rect class="sp" x="0" width="15" height="60"/>
<text class="mn" y="-7.5"><tspan x="0">101</tspan><tspan x="240">102</tspan><tspan x="480">103</tspan><tspan x="720">104</tspan></text>
<text class="a" y="76"><tspan x="239">206</tspan><tspan x="479">159</tspan><tspan x="719">166</tspan><tspan x="959">154</tspan></text>
<text class="b" y="88.5"><tspan x="239">89418</tspan><tspan x="479">90372</tspan><tspan x="719">91368</tspan><tspan x="959">92292</tspan></text>
<text class="c" y="101.5"><tspan x="239">-nan(ind)SP</tspan><tspan x="479">-nan(ind)SP</tspan><tspan x="719">-nan(ind)SP</tspan><tspan x="959">-nan(ind)SP</tspan></text>
</g>

<g id="row-27" transform="translate(31.5,4195.5)">
<use href="#g4"/>
<path class="s sR" d="M0 15h60M120 15h45M660 15h45"/><path class="s sO" d="M180 60h45M780 60h45"/><path class="s sB" d="M240 45h45M300 45h45M360 45h45"/><path class="s sY" d="M480 30h60"/><path class="s sG" d="M900 0h45"/>
<use href="#R" x="0" y="15"/><use href="#R" x="120" y="15"/><use href="#O" x="180" y="60"/><use href="#B" x="240" y="45"/><use href="#B" x="300" y="45"/><use href="#B" x="360" y="45"/><use href="#O" x="420" y="60"/><use href="#Y" x="450" y="30"/><use href="#Y" x="480" y="30"/><use href="#G" x="600" y="0"/><use href="#R" x="660" y="15"/><use href="#Y" x="720" y="30"/><use href="#O" x="780" y="60"/><use href="#R" x="840" y="15"/>
<use href="#SG" x="900" y="0"/>
<rect class="sp" x="900" width="60" height="60"/>
<text class="mn" y="-7.5"><tspan x="0">105</tspan><tspan x="240">106</tspan><tspan x="480">107</tspan><tspan x="720">108</tspan></text>
<text class="a" y="76"><tspan x="239">171</tspan><tspan x="479">237</tspan><tspan x="719">152</tspan><tspan x="959">182</tspan></text>
<text class="b" y="88.5"><tspan x="239">93318</tspan><tspan x="479">94740</tspan><tspan x="719">95652</tspan><tspan x="959">96744</tspan></text>
<text class="c" y="101.5"><tspan x="239">-nan(ind)SP</tspan><tspan x="479">-nan(ind)SP</tspan><tspan x="719">-nan(ind)SP</tspan><tspan x="959">-nan(ind)SP</tspan></text>
</g>

<g id="row-28" transform="translate(31.5,4348.5)">
<use href="#g4"/>
<path class="s sR" d="M0 15h60M390 15h45"/><path class="s sB" d="M240 45h45M510 45h45M720 45h195"/><path class="s sY" d="M330 30h45M570 30h60M660 30h45"/>
<use href="#B" x="240" y="45"/><use href="#Y" x="300" y="30"/><use href="#Y" x="330" y="30"/><use href="#R" x="390" y="15"/><use href="#R" x="450" y="15"/><use href="#B" x="510" y="45"/><use href="#Y" x="570" y="30"/><use href="#Y" x="660" y="30"/><use href="#B" x="720" y="45"/><use href="#R" x="930" y="15"/>
<use href="#SR" x="0" y="15"/><use href="#SR" x="120" y="15"/><use href="#SR" x="150" y="15"/><use href="#SR" x="180" y="15"/><use href="#SY" x="210" y="30"/>
<rect class="sp" x="0" width="210" height="60"/>
<text class="mn" y="-7.5"><tspan x="0">109</tspan><tspan x="240">110</tspan><tspan x="480">111</tspan><tspan x="720">112</tspan></text>
<text class="a" y="76"><tspan x="239">205</tspan><tspan x="479">237</tspan><tspan x="719">171</tspan><tspan x="959">154</tspan></text>
<text class="b" y="88.5"><tspan x="239">97974</tspan><tspan x="479">99396</tspan><tspan x="719">100422</tspan><tspan x="959">101346</tspan></text>
<text class="c" y="101.5"><tspan x="239">-nan(ind)SP</tspan><tspan x="479">-nan(ind)SP</tspan><tspan x="719">-nan(ind)SP</tspan><tspan x="959">-nan(ind)SP</tspan></text>
</g>

<g id="row-29" transform="translate(31.5,4501.5)">
<use href="#g4"/>
<path class="s sR" d="M0 15h60M120 15h45M660 15h45"/><path class="s sO" d="M180 60h45"/><path class="s sB" d="M300 45h45"/><path class="s sY" d="M480 30h60M720 30h45"/><path class="s sG" d="M900 0h45"/>
<use href="#R" x="0" y="15"/><use href="#R" x="120" y="15"/><use href="#O" x="180" y="60"/><use href="#B" x="240" y="45"/><use href="#B" x="300" y="45"/><use href="#B" x="360" y="45"/><use href="#O" x="420" y="60"/><use href="#Y" x="450" y="30"/><use href="#Y" x="480" y="30"/><use href="#G" x="600" y="0"/><use href="#R" x="660" y="15"/><use href="#Y" x="720" y="30"/><use href="#B" x="780" y="45"/><use href="#R" x="840" y="15"/><use href="#G" x="900" y="0"/>
<text class="mn" y="-7.5"><tspan x="0">113</tspan><tspan x="240">114</tspan><tspan x="480">115</tspan><tspan x="720">116</tspan></text>
<text class="a" y="76"><tspan x="239">171</tspan><tspan x="479">199</tspan><tspan x="719">152</tspan><tspan x="959">182</tspan></text>
<text class="b" y="88.5"><tspan x="239">102372</tspan><tspan x="479">103566</tspan><tspan x="719">104478</tspan><tspan x="959">105570</tspan></text>
<text class="c" y="101.5"><tspan x="239">-nan(ind)SP</tspan><tspan x="479">-nan(ind)SP</tspan><tspan x="719">-nan(ind)SP</tspan><tspan x="959">-nan(ind)SP</tspan></text>
</g>

<g id="row-30" transform="translate(31.5,4654.5)">
<use href="#g4"/>
<path class="s sR" d="M0 15h60M450 15h45"/><path class="s sB" d="M240 45h45"/><path class="s sY" d="M330 30h45"/><path class="s sG" d="M510 0h45M570 0h60"/><path class="s sO" d="M720 60h45"/>
<use href="#R" x="0" y="15"/><use href="#R" x="120" y="15"/><use href="#R" x="150" y="15"/><use href="#R" x="180" y="15"/><use href="#Y" x="210" y="30"/><use href="#B" x="240" y="45"/><use href="#Y" x="300" y="30"/><use href="#Y" x="330" y="30"/><use href="#R" x="390" y="15"/><use href="#R" x="450" y="15"/><use href="#G" x="510" y="0"/><use href="#G" x="570" y="0"/><use href="#O" x="720" y="60"/><use href="#B" x="780" y="45"/><use href="#B" x="810" y="45"/><use href="#R" x="870" y="15"/><use href="#G" x="930" y="0"/>
<text class="mn" y="-7.5"><tspan x="0">117</tspan><tspan x="240">118</tspan><tspan x="480">119</tspan><tspan x="720">120</tspan></text>
<text class="a" y="76"><tspan x="239">205</tspan><tspan x="479">230</tspan><tspan x="719">123</tspan><tspan x="959">199</tspan></text>
<text class="b" y="88.5"><tspan x="239">106800</tspan><tspan x="479">108180</tspan><tspan x="719">108918</tspan><tspan x="959">110112</tspan></text>
<text class="c" y="101.5"><tspan x="239">-nan(ind)SP</tspan><tspan x="479">-nan(ind)SP</tspan><tspan x="719">-nan(ind)SP</tspan><tspan x="959">-nan(ind)SP</tspan></text>
</g>

<g id="row-31" transform="translate(31.5,4807.5)">
<use href="#g2"/>
<path class="s sY" d="M30 30h45"/><path class="s sR" d="M90 15h45"/><path class="s sG" d="M150 0h45M210 0h90"/>
<use href="#Y" x="30" y="30"/><use href="#R" x="90" y="15"/><use href="#G" x="150" y="0"/><use href="#G" x="210" y="0"/>
<text class="mn" y="-7.5"><tspan x="0">121</tspan><tspan x="240">122</tspan></text>
<text class="a" y="76"><tspan x="239">213</tspan><tspan x="479">26</tspan></text>
<text class="b" y="88.5"><tspan x="239">111390</tspan><tspan x="479">111546</tspan></text>
<text class="c" y="101.5"><tspan x="239">-nan(ind)SP</tspan><tspan x="479">-nan(ind)SP</tspan></text>
</g>
</g>
</svg>
